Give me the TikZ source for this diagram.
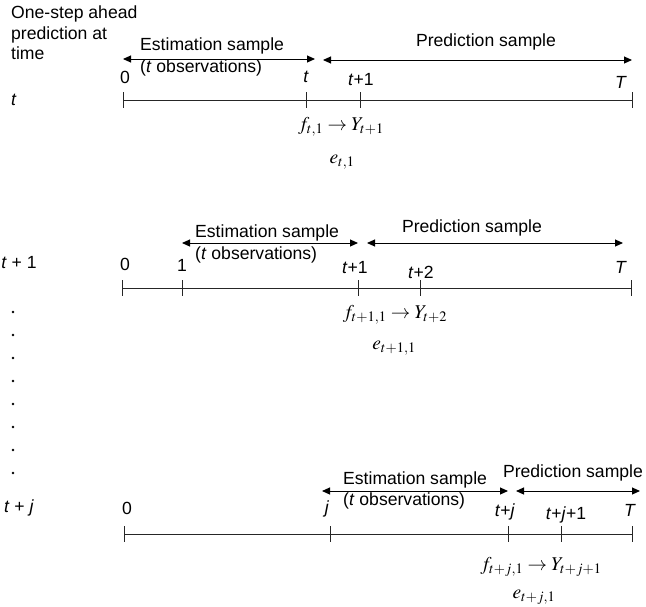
\documentclass[tikz,border=0pt]{standalone}
\usepackage{mathptmx}
\usepackage{fontspec}
\setmainfont{Liberation Sans}
\usetikzlibrary{arrows.meta}

\begin{document}
\begin{tikzpicture}[x=1pt,y=-1pt,font=\fontsize{17.6}{20.5}\selectfont,
  span/.style={{Triangle[length=8pt,width=7pt]}-{Triangle[length=8pt,width=7pt]},line width=1pt},
  axis/.style={line width=0.8pt,black!85},
  lab/.style={inner sep=0pt},
  frm/.style={inner sep=0pt,font=\fontsize{19.5}{22}\selectfont}]
\useasboundingbox (0,0) rectangle (646,606);
% heading and times at the left
\node[lab,align=left,anchor=north west] (head) at (11,6) {One-step ahead\\prediction at\\time};
\node[lab] (r1) at (14,100) {\textit{t}};
\node[lab] (r2) at (19,263) {\textit{t} + 1};
\node[lab] (r3) at (19,508) {\textit{t} + \textit{j}};
\foreach \k in {0,...,7}{\fill (13,{312+23*\k}) circle (1.4pt);}

% first line
\coordinate (A0) at (123,100);
\coordinate (A1) at (632,100);
\draw[axis] (A0) -- (A1);
\foreach \x in {123,306,360,632}{\draw[axis] (\x,92) -- (\x,108);}
\node[lab] (a0) at (125,77) {0};
\node[lab] (at) at (306,77) {\textit{t}};
\node[lab] (at1) at (361,80) {\textit{t}+1};
\node[lab] (aT) at (621,82) {\textit{T}};
\coordinate (E1l) at (123,59);
\coordinate (E1r) at (315,59);
\coordinate (P1l) at (323,60);
\coordinate (P1r) at (632,60);
\draw[span] (E1l) -- (E1r);
\draw[span] (P1l) -- (P1r);
\node[lab,anchor=west] (est1) at (140,46) {Estimation sample};
\node[lab,anchor=west] (obs1) at (140,68) {(\textit{t} observations)};
\node[lab] (pre1) at (486,42) {Prediction sample};
\node[frm] (fy1) at (341,127) {$f_{t,1}\rightarrow Y_{t+1}$};
\node[frm] (e1) at (342,162) {$e_{t,1}$};

% second line
\coordinate (B0) at (122,288);
\coordinate (B1) at (631,288);
\draw[axis] (B0) -- (B1);
\foreach \x in {122,182,358,420,631}{\draw[axis] (\x,280) -- (\x,296);}
\node[lab] (b0) at (125,264) {0};
\node[lab] (b1) at (182,265) {1};
\node[lab] (bt1) at (355,268) {\textit{t}+1};
\node[lab] (bt2) at (421,272) {\textit{t}+2};
\node[lab] (bT) at (621,267) {\textit{T}};
\coordinate (E2l) at (182,243);
\coordinate (E2r) at (358,243);
\coordinate (P2l) at (367,243);
\coordinate (P2r) at (623,243);
\draw[span] (E2l) -- (E2r);
\draw[span] (P2l) -- (P2r);
\node[lab,anchor=west] (est2) at (195,233) {Estimation sample};
\node[lab,anchor=west] (obs2) at (195,255) {(\textit{t} observations)};
\node[lab] (pre2) at (472,228) {Prediction sample};
\node[frm] (fy2) at (395,315) {$f_{t+1,1}\rightarrow Y_{t+2}$};
\node[frm] (e2) at (394,348) {$e_{t+1,1}$};

% third line
\coordinate (C0) at (124,534);
\coordinate (C1) at (632,534);
\draw[axis] (C0) -- (C1);
\foreach \x in {124,330,508,561,632}{\draw[axis] (\x,526) -- (\x,542);}
\node[lab] (c0) at (127,508) {0};
\node[lab] (cj) at (327,509) {\textit{j}};
\node[lab] (ctj) at (505,512) {\textit{t}+\textit{j}};
\node[lab] (ctj1) at (566,515) {\textit{t}+\textit{j}+1};
\node[lab] (cT) at (630,510) {\textit{T}};
\coordinate (E3l) at (322,491);
\coordinate (E3r) at (508,491);
\coordinate (P3l) at (516,491);
\coordinate (P3r) at (640,491);
\draw[span] (E3l) -- (E3r);
\draw[span] (P3l) -- (P3r);
\node[lab,anchor=west] (est3) at (343,480) {Estimation sample};
\node[lab,anchor=west] (obs3) at (343,501) {(\textit{t} observations)};
\node[lab] (pre3) at (573,473) {Prediction sample};
\node[frm] (fy3) at (541,567) {$f_{t+j,1}\rightarrow Y_{t+j+1}$};
\node[frm] (e3) at (534,597) {$e_{t+j,1}$};
\end{tikzpicture}
\end{document}
